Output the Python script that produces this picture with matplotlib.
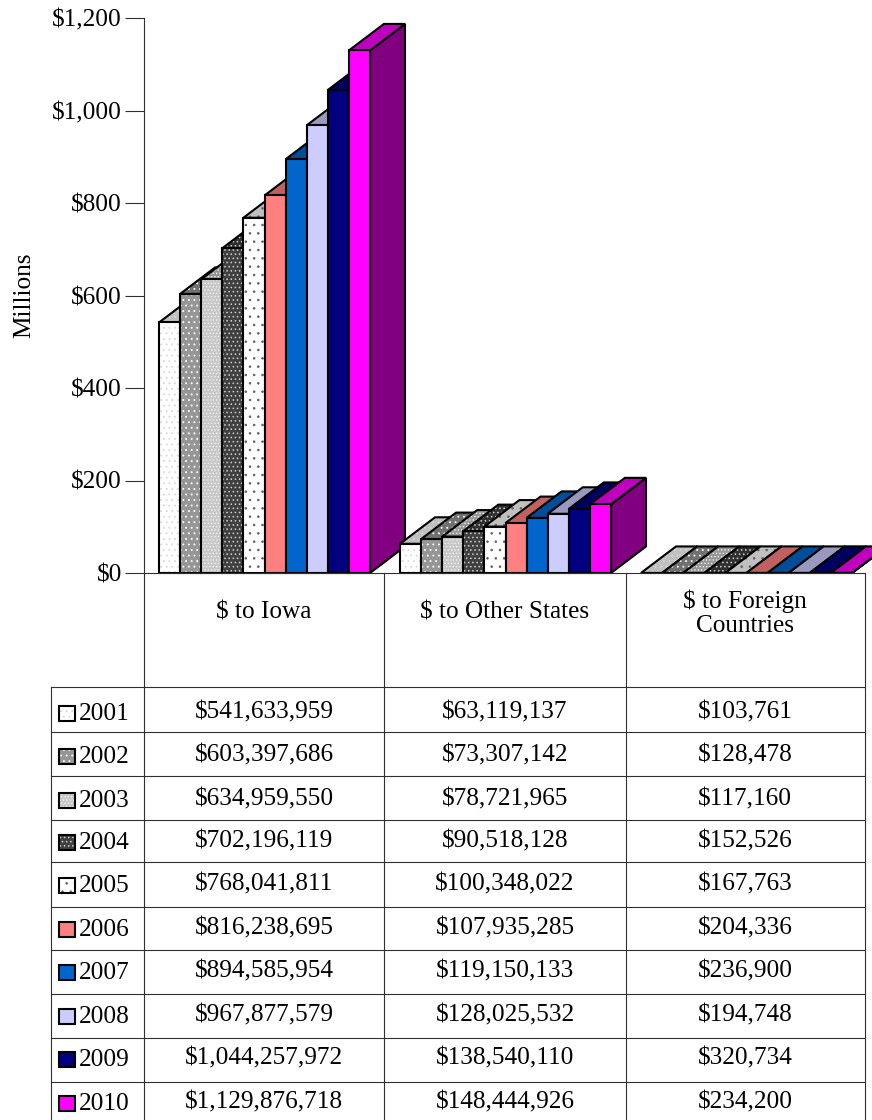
#!/usr/bin/env python

import matplotlib
matplotlib.use('Agg')
import matplotlib.pyplot as plt
from matplotlib.patches import Polygon, Rectangle

plt.rcParams['font.family'] = ['Liberation Serif', 'DejaVu Serif']
plt.rcParams['hatch.linewidth'] = 0.6

years = ['2001', '2002', '2003', '2004', '2005', '2006', '2007', '2008', '2009', '2010']
groups = ['$ to Iowa', '$ to Other States', '$ to Foreign\nCountries']
to_iowa = [541633959, 603397686, 634959550, 702196119, 768041811,
           816238695, 894585954, 967877579, 1044257972, 1129876718]
to_states = [63119137, 73307142, 78721965, 90518128, 100348022,
             107935285, 119150133, 128025532, 138540110, 148444926]
to_foreign = [103761, 128478, 117160, 152526, 167763,
              204336, 236900, 194748, 320734, 234200]
series = [to_iowa, to_states, to_foreign]
yticks = [0, 200, 400, 600, 800, 1000, 1200]

# front, top, side colours, hatch colour, hatch pattern
face = ['#ffffff', '#969696', '#c8c8c8', '#404040', '#ffffff',
        '#ff8080', '#0066cc', '#ccccff', '#000080', '#ff00ff']
top = ['#c0c0c0', '#707070', '#969696', '#303030', '#c0c0c0',
       '#c06060', '#004d99', '#9999bf', '#000060', '#bf00bf']
side = ['#c0c0c0', '#707070', '#969696', '#303030', '#c0c0c0',
        '#c06060', '#004d99', '#9999bf', '#000060', '#800080']
hatch_col = ['#d8d8d8', '#ffffff', '#f0f0f0', '#d0d0d0', '#606060',
             None, None, None, None, None]
hatch = ['...', '...', '.....', '....', '..', None, None, None, None, None]

FONT = 18.2
W, H = 872, 1120

fig = plt.figure(figsize=(W / 100, H / 100), dpi=100)

# chart axes: x in category units, y in millions of dollars
left, right, ybot, ytop = 144, 867, 573, 18
ax = fig.add_axes([left / W, 1 - ybot / H, (right - left) / W, (ybot - ytop) / H])
ax.set_xlim(0, 3)
ax.set_ylim(0, 1200)
ax.patch.set_alpha(0)
for s in ['top', 'right', 'bottom']:
    ax.spines[s].set_visible(False)
ax.spines['left'].set_linewidth(0.8)
ax.spines['left'].set_color('#303030')
ax.set_xticks([])
ax.set_yticks(yticks)
ax.set_yticklabels(['$' + format(v, ',') for v in yticks], fontsize=FONT)
ax.tick_params(axis='y', length=14, width=0.8, pad=2, color='#303030')
ax.set_ylabel('Millions', fontsize=FONT, labelpad=12)

# sizes in axis units
bar_w = 21.1 * 3 / (right - left)
dx = 35 * 3 / (right - left)
dy = 26.5 * 1200 / (ybot - ytop)
start = 15 * 3 / (right - left)


def add_face(pts, col, h=None, hc=None):
    ax.add_patch(Polygon(pts, closed=True, facecolor=col, edgecolor='none', clip_on=False))
    if h:
        ax.add_patch(Polygon(pts, closed=True, facecolor='none', edgecolor=hc, hatch=h,
                             linewidth=0, clip_on=False))
    ax.add_patch(Polygon(pts, closed=True, facecolor='none', edgecolor='black',
                         linewidth=1.5, joinstyle='miter', clip_on=False))


for g, vals in enumerate(series):
    for i, v in enumerate(vals):
        m = v / 1e6
        x0 = g + start + i * bar_w
        x1 = x0 + bar_w
        add_face([(x1, 0), (x1 + dx, dy), (x1 + dx, m + dy), (x1, m)], side[i])
        add_face([(x0, m), (x0 + dx, m + dy), (x1 + dx, m + dy), (x1, m)], top[i], hatch[i], hatch_col[i])
        add_face([(x0, 0), (x1, 0), (x1, m), (x0, m)], face[i], hatch[i], hatch_col[i])

# table axes in pixels of the figure
tb = fig.add_axes([0, 0, 1, 1])
tb.set_xlim(0, W)
tb.set_ylim(H, 0)
tb.axis('off')
tb.patch.set_alpha(0)

col_x = [51, 144, 384, 626, 865]
row_y = [687, 732, 776, 820, 862, 907, 950, 994, 1038, 1082]
line_col = '#303030'
tb.plot([144, 865], [573, 573], color=line_col, lw=0.8)
for x in col_x[1:]:
    tb.plot([x, x], [573, H], color=line_col, lw=0.8)
tb.plot([51, 51], [687, H], color=line_col, lw=0.8)
for y in row_y:
    tb.plot([51, 865], [y, y], color=line_col, lw=0.8)

centers = [264, 505, 745]
tb.text(centers[0], 612, groups[0], ha='center', va='center', fontsize=FONT)
tb.text(centers[1], 612, groups[1], ha='center', va='center', fontsize=FONT)
tb.text(centers[2], 613, groups[2], ha='center', va='center', fontsize=FONT, linespacing=1.1)

row_mid = [713, 756, 800, 842, 885, 929, 972, 1016, 1059, 1103]
for i, y in enumerate(row_mid):
    tb.add_patch(Rectangle((59, y - 7), 16, 15, facecolor=face[i], edgecolor='none'))
    if hatch[i]:
        tb.add_patch(Rectangle((59, y - 7), 16, 15, facecolor='none', edgecolor=hatch_col[i],
                               hatch=hatch[i], linewidth=0))
    tb.add_patch(Rectangle((59, y - 7), 16, 15, facecolor='none', edgecolor='black', linewidth=1.5))
    tb.text(79, y + 1, years[i], ha='left', va='center', fontsize=FONT)
    for c, vals in zip(centers, series):
        tb.text(c, y - 1, '$' + format(vals[i], ','), ha='center', va='center', fontsize=FONT)

fig.savefig('out.png', dpi=100)
